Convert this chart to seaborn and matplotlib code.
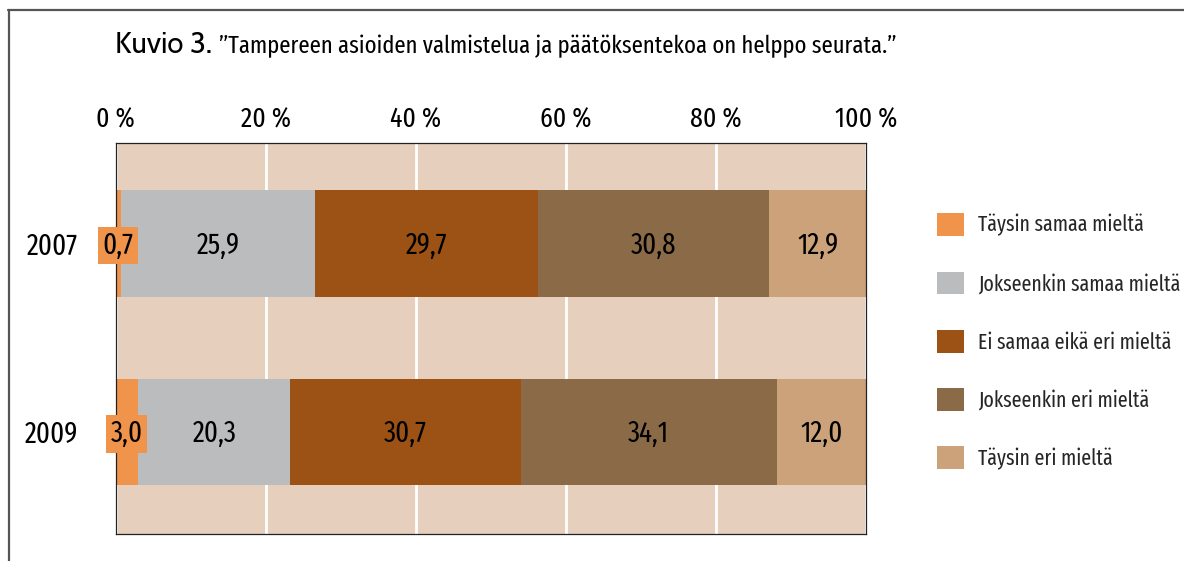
import numpy as np
import pandas as pd
import matplotlib
matplotlib.use('Agg')
import matplotlib.pyplot as plt
import seaborn as sns
from matplotlib import font_manager
from matplotlib.patches import Patch
from matplotlib.lines import Line2D

# ---------------- data ----------------
years = ['2007', '2009']
categories = ['Täysin samaa mieltä', 'Jokseenkin samaa mieltä',
              'Ei samaa eikä eri mieltä', 'Jokseenkin eri mieltä',
              'Täysin eri mieltä']
values_2007 = [0.7, 25.9, 29.7, 30.8, 12.9]
values_2009 = [3.0, 20.3, 30.7, 34.1, 12.0]
tick_values = [0, 20, 40, 60, 80, 100]
tick_labels = ['0 %', '20 %', '40 %', '60 %', '80 %', '100 %']
title_lead = 'Kuvio 3.'
title_quote = '”Tampereen asioiden valmistelua ja päätöksentekoa on helppo seurata.”'
colors = ['#F0934B', '#BBBCBE', '#9C5215', '#8B6B47', '#CBA27A']
bg_color = '#E6CFBC'

# ---------------- fonts ----------------
names = {f.name for f in font_manager.fontManager.ttflist}


def pick(options, default='DejaVu Sans'):
    for o in options:
        if o in names:
            return o
    return default


narrow = pick(['Fira Sans Extra Condensed', 'PT Sans Narrow', 'Cabin Condensed',
               'Roboto Condensed', 'Liberation Sans Narrow'])
lead_font = pick(['Cabin', 'Lato', 'Open Sans'])

sns.set_theme(style='white')
plt.rcParams['font.family'] = [narrow, 'DejaVu Sans']

W, H = 1184, 561
fig = plt.figure(figsize=(W / 100, H / 100), dpi=100)
ax = fig.add_axes([115.5 / W, 1 - 534 / H, (866 - 115.5) / W, (534 - 143) / H])
ax.set_facecolor(bg_color)

df = pd.DataFrame({
    'year': np.repeat(years, len(categories)),
    'category': categories * len(years),
    'value': values_2007 + values_2009,
})
df['cum'] = df.groupby('year')['value'].cumsum()
df['mid'] = df['cum'] - df['value'] / 2

bar_h = 0.567
for i in reversed(range(len(categories))):
    sub = df[df['category'] == categories[i]]
    sns.barplot(data=sub, x='cum', y='year', orient='h', order=years,
                color=colors[i], saturation=1, width=bar_h, errorbar=None,
                edgecolor='none', linewidth=0, ax=ax)

# value labels
for yi, yr in enumerate(years):
    sub = df[df['year'] == yr].reset_index(drop=True)
    for j, row in sub.iterrows():
        txt = f"{row['value']:.1f}".replace('.', ',')
        kw = {}
        if j == 0:
            kw['bbox'] = dict(boxstyle='square,pad=0.15', facecolor=colors[0], edgecolor='none')
        ax.text(row['mid'], yi + 0.01, txt, ha='center', va='center', fontsize=21,
                color='black', zorder=5, clip_on=False, **kw)

ax.set_xlim(0, 100)
ax.set_ylim(1.541, -0.533)
ax.xaxis.tick_top()
ax.set_xticks(tick_values)
ax.set_xticklabels(tick_labels)
ax.tick_params(axis='x', length=0, pad=7, labelsize=20, colors='black')
ax.tick_params(axis='y', length=0, pad=27, labelsize=21, colors='black')
ax.set_xlabel('')
ax.set_ylabel('')
ax.grid(axis='x', color='white', linewidth=2)
ax.grid(axis='y', visible=False)
ax.set_axisbelow(True)
for s in ax.spines.values():
    s.set_visible(True)
    s.set_color('#222222')
    s.set_linewidth(0.9)

# legend
fs_pt = 15.5
fs_px = fs_pt * 100 / 72
handles = [Patch(facecolor=c, edgecolor='none') for c in colors]
ax.legend(handles, categories, loc='upper left',
          bbox_to_anchor=(937 / W, 1 - 213 / H), bbox_transform=fig.transFigure,
          frameon=False, borderpad=0, borderaxespad=0,
          handlelength=27 / fs_px, handleheight=27 / fs_px,
          labelspacing=1.49 * 17 / fs_pt, handletextpad=14 / fs_px,
          prop={'family': [narrow, 'DejaVu Sans'], 'size': fs_pt})

# title
fig.canvas.draw()
r = fig.canvas.get_renderer()
base_y = 1 - 53 / H
t1 = fig.text(115 / W, base_y, title_lead, family=[lead_font, 'DejaVu Sans'],
              fontsize=21, va='baseline', ha='left', color='black')
bb = t1.get_window_extent(r)
x2 = bb.x1 + 7
t2 = fig.text(x2 / W, base_y, title_quote, family=[narrow, 'DejaVu Sans'],
              fontsize=21, va='baseline', ha='left', color='black')
w = t2.get_window_extent(r).width
target = 895 - x2
if w > target:
    t2.set_fontsize(21 * target / w)

# outer frame lines
fig.add_artist(Line2D([8 / W, 1], [1 - 9.5 / H, 1 - 9.5 / H], transform=fig.transFigure,
                      color='#555555', linewidth=1.6))
fig.add_artist(Line2D([8.5 / W, 8.5 / W], [0, 1 - 9.5 / H], transform=fig.transFigure,
                      color='#555555', linewidth=1.6))

fig.savefig('out.png', dpi=100)
